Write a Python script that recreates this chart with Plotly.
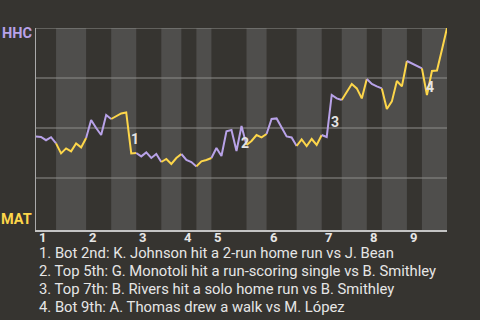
import plotly.graph_objects as go

# Win probability (percent, top = HHC) per play
win_prob = [45.7, 45.5, 43.9, 45.4, 42.3, 37.3, 39.8, 38.3, 42.3, 40.3,
            45.0, 54.0, 50.0, 46.5, 56.5, 54.5, 56.0, 57.3, 57.8, 37.3,
            37.5, 35.8, 37.8, 35.0, 37.0, 33.0, 34.5, 32.0, 35.0, 37.0,
            34.0, 33.0, 30.8, 33.3, 34.0, 35.0, 40.0, 36.0, 48.3, 49.0,
            38.5, 51.0, 41.5, 43.5, 46.5, 45.3, 47.0, 54.5, 54.8, 50.5,
            45.8, 45.3, 41.0, 44.3, 41.0, 44.5, 41.5, 46.5, 45.5, 66.5,
            64.8, 64.0, 68.0, 72.0, 69.8, 64.8, 74.5, 72.0, 70.8, 69.8,
            59.5, 63.3, 73.5, 70.8, 83.5, 82.3, 81.0, 79.8, 66.5, 78.5,
            78.7, 89.3, 100.0]

# play index where each half inning starts (last value = end of game)
half_starts = [0, 4, 10, 15, 20, 25, 29, 32, 35, 42, 46, 52, 57, 61, 66, 69, 74, 77, 82]
inning_labels = ["1", "2", "3", "4", "5", "6", "7", "8", "9"]

# key plays: (play index, win prob position, label)
key_x = [19.75, 41.7, 59.75, 78.7]
key_y = [44.5, 42.3, 53.0, 70.3]
key_labels = ["1", "2", "3", "4"]
key_notes = [
    "1. Bot 2nd: K. Johnson hit a 2-run home run vs J. Bean",
    "2. Top 5th: G. Monotoli hit a run-scoring single vs B. Smithley",
    "3. Top 7th: B. Rivers hit a solo home run vs B. Smithley",
    "4. Bot 9th: A. Thomas drew a walk vs M. López",
]
grid_levels = [25, 50, 75, 100]

BG = "#363430"
BAND = "#4f4e4c"
PURPLE = "#b8a2e8"
YELLOW = "#fdd64a"
TEXT = "#e6e6e6"
GRID = "#8e8d8a"

fig = go.Figure()
shapes = []
for h in range(len(half_starts) - 1):
    a, b = half_starts[h], half_starts[h + 1]
    top = (h % 2 == 0)
    fig.add_trace(go.Scatter(
        x=list(range(a, b + 1)), y=win_prob[a:b + 1], mode="lines",
        line=dict(color=PURPLE if top else YELLOW, width=2),
        hoverinfo="skip", showlegend=False))
    if not top:
        shapes.append(dict(type="rect", xref="x", yref="paper", x0=a, x1=b,
                           y0=0, y1=1, fillcolor=BAND, line_width=0, layer="below"))
for g in grid_levels:
    shapes.append(dict(type="line", xref="paper", yref="y", x0=0, x1=1, y0=g, y1=g,
                       line=dict(color=GRID, width=1), layer="below"))

annotations = []
for i, lab in enumerate(inning_labels):
    annotations.append(dict(x=half_starts[2 * i], y=0, xref="x", yref="paper",
                            text=f"<b>{lab}</b>", showarrow=False, xanchor="left",
                            yanchor="top", xshift=1, yshift=2,
                            font=dict(size=13, color=TEXT, family="Roboto")))
for x, y, lab in zip(key_x, key_y, key_labels):
    annotations.append(dict(x=x, y=y, xref="x", yref="y", text=f"<b>{lab}</b>",
                            showarrow=False,
                            font=dict(size=14, color="#e4e4e4", family="Roboto")))
for i, note in enumerate(key_notes):
    annotations.append(dict(x=0, y=0, xref="x", yref="paper", text=note,
                            showarrow=False, xanchor="left", yanchor="middle",
                            xshift=1, yshift=-23 - 18 * i,
                            font=dict(size=14.8, color=TEXT, family="Roboto")))
annotations.append(dict(x=0, y=1, xref="paper", yref="paper", text="<b>HHC</b>",
                        showarrow=False, xanchor="right", yanchor="middle",
                        xshift=-2, yshift=-5,
                        font=dict(size=14.5, color=PURPLE, family="Roboto")))
annotations.append(dict(x=0, y=0, xref="paper", yref="paper", text="<b>MAT</b>",
                        showarrow=False, xanchor="right", yanchor="middle",
                        xshift=-2, yshift=11,
                        font=dict(size=14.5, color=YELLOW, family="Roboto")))

fig.update_layout(
    width=480, height=320,
    margin=dict(l=36, r=33, t=28, b=90),
    paper_bgcolor=BG, plot_bgcolor=BG,
    shapes=shapes, annotations=annotations,
    xaxis=dict(range=[0, 82], showgrid=False, zeroline=False, showticklabels=False,
               ticks="", showline=True, linecolor="#c4c4c4", linewidth=2, fixedrange=True),
    yaxis=dict(range=[-1, 100], showgrid=False, zeroline=False, showticklabels=False,
               ticks="", showline=True, linecolor="#aaaaaa", linewidth=1, fixedrange=True),
    font=dict(family="Roboto"),
)

fig.write_html("out.html", config={"displayModeBar": False})
